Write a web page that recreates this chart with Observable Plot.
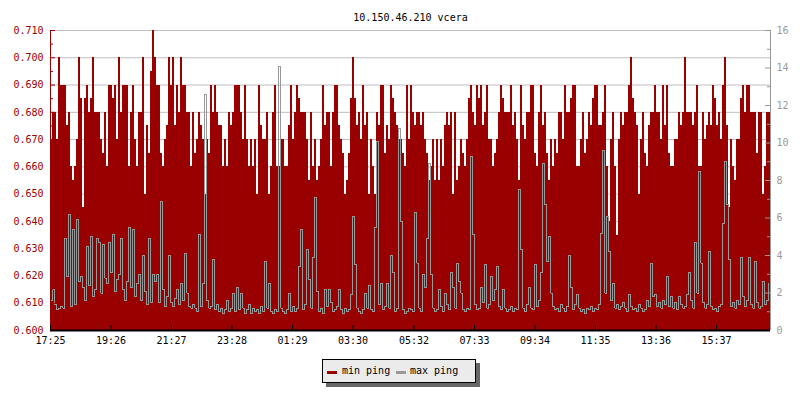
<!DOCTYPE html>
<html>
<head>
<meta charset="utf-8">
<script src="https://cdn.jsdelivr.net/npm/d3@7"></script>
<script src="https://cdn.jsdelivr.net/npm/@observablehq/plot@0.6"></script>
<style>
  body { margin: 0; background: #fff; }
  #wrap { position: relative; width: 800px; height: 400px; font-family: "DejaVu Sans Mono", monospace; }
  #legend { position: absolute; left: 322px; top: 359px; width: 152px; height: 22px; background: #ebebeb; border: 1px solid #000; box-shadow: 4px 4px 0 #666; font-size: 10px; color: #000; }
  #legend .sw { position: absolute; top: 11px; width: 10px; height: 3px; }
  #legend .lb { position: absolute; top: 0; line-height: 22px; white-space: pre; }
</style>
</head>
<body>
<div id="wrap">
  <div id="chart"></div>
  <div id="legend"></div>
</div>
<script>
const title = "10.150.46.210 vcera";
const seriesNames = ["min ping", "max ping"];
const startLabel = "17:25";
const timeLabels = ["17:25","19:26","21:27","23:28","01:29","03:30","05:32","07:33","09:34","11:35","13:36","15:37"];
const leftTicks = [0.600,0.610,0.620,0.630,0.640,0.650,0.660,0.670,0.680,0.690,0.700,0.710];
const leftMinor = [0.605,0.615,0.625,0.635,0.645,0.655,0.665,0.675,0.685,0.695,0.705];
const rightTicks = [0,2,4,6,8,10,12,14,16];
const rightMinor = [1,3,5,7,9,11,13,15];

// min ping (ms), one value per 4 minutes, 24 h
const minPing = [
0.670,0.680,0.680,0.670,0.700,0.690,0.690,0.690,0.675,0.680,0.660,0.655,0.660,0.670,0.700,0.685,0.645,0.685,0.690,0.680,
0.685,0.700,0.680,0.680,0.680,0.670,0.665,0.680,0.660,0.690,0.690,0.685,0.690,0.670,0.700,0.680,0.690,0.690,0.690,0.660,
0.680,0.690,0.670,0.660,0.680,0.680,0.700,0.650,0.675,0.665,0.695,0.710,0.700,0.690,0.690,0.665,0.660,0.670,0.675,0.700,
0.690,0.700,0.675,0.690,0.680,0.700,0.690,0.690,0.680,0.680,0.660,0.680,0.665,0.670,0.680,0.675,0.670,0.650,0.670,0.665,
0.690,0.680,0.690,0.680,0.675,0.675,0.660,0.670,0.660,0.680,0.675,0.680,0.690,0.690,0.690,0.680,0.670,0.690,0.670,0.660,
0.670,0.660,0.670,0.650,0.690,0.675,0.670,0.670,0.680,0.650,0.660,0.680,0.690,0.660,0.660,0.670,0.670,0.660,0.660,0.675,
0.690,0.670,0.680,0.690,0.685,0.680,0.680,0.680,0.670,0.655,0.680,0.660,0.670,0.655,0.660,0.670,0.690,0.675,0.680,0.680,
0.660,0.680,0.690,0.690,0.675,0.670,0.665,0.650,0.655,0.665,0.685,0.700,0.685,0.675,0.680,0.670,0.690,0.675,0.680,0.650,
0.670,0.660,0.650,0.680,0.675,0.690,0.690,0.665,0.675,0.670,0.690,0.685,0.680,0.675,0.670,0.670,0.665,0.660,0.690,0.670,
0.690,0.680,0.675,0.680,0.680,0.675,0.680,0.670,0.665,0.655,0.660,0.670,0.655,0.670,0.655,0.670,0.660,0.675,0.680,0.675,
0.680,0.650,0.680,0.655,0.660,0.670,0.665,0.660,0.670,0.685,0.690,0.680,0.675,0.690,0.685,0.690,0.675,0.680,0.690,0.670,
0.670,0.660,0.665,0.670,0.680,0.690,0.685,0.680,0.680,0.680,0.690,0.675,0.680,0.670,0.655,0.690,0.675,0.670,0.680,0.680,
0.690,0.690,0.665,0.660,0.680,0.690,0.675,0.680,0.665,0.655,0.670,0.660,0.670,0.665,0.680,0.680,0.670,0.690,0.680,0.680,
0.685,0.690,0.690,0.660,0.660,0.670,0.680,0.665,0.670,0.680,0.675,0.685,0.690,0.690,0.675,0.675,0.680,0.690,0.660,0.640,
0.670,0.680,0.660,0.635,0.670,0.680,0.675,0.680,0.680,0.690,0.700,0.685,0.680,0.675,0.650,0.670,0.680,0.665,0.660,0.675,
0.680,0.680,0.690,0.680,0.680,0.670,0.690,0.675,0.690,0.665,0.660,0.660,0.670,0.670,0.680,0.675,0.680,0.700,0.680,0.680,
0.680,0.675,0.680,0.690,0.660,0.660,0.680,0.670,0.675,0.680,0.675,0.690,0.685,0.675,0.680,0.670,0.690,0.700,0.675,0.645,
0.670,0.660,0.655,0.670,0.670,0.685,0.690,0.680,0.690,0.690,0.680,0.680,0.680,0.665,0.680,0.680,0.650,0.660,0.680,0.680
];

// max ping (ms), right axis, same sampling
const maxPing = [
1.6,2.2,1.4,1.1,1.2,1.3,1.2,4.9,2.9,6.2,1.3,5.4,1.4,5.9,2.6,2.9,2.3,1.6,4.5,2.4,
5.0,1.8,2.2,4.9,4.7,2.0,4.6,2.8,2.5,4.7,3.1,5.1,2.1,2.7,3.0,4.9,2.2,1.6,2.6,5.5,
2.3,5.4,1.8,2.5,3.0,1.6,4.0,2.1,1.4,4.9,1.5,3.0,2.6,3.0,1.5,6.9,2.2,1.3,1.8,4.0,
1.5,1.3,1.7,2.2,1.4,2.5,1.6,4.1,2.0,1.3,1.2,1.4,1.2,1.0,5.1,1.3,2.5,12.6,1.6,1.2,
1.3,3.8,1.1,1.4,1.0,1.2,0.9,1.1,1.6,1.0,1.2,2.0,1.0,2.3,1.1,2.0,1.2,0.9,1.1,1.4,
0.9,1.2,1.0,1.1,0.9,1.3,1.0,3.7,1.2,2.5,1.0,0.9,1.1,1.0,14.1,1.2,1.0,0.9,1.1,2.0,
1.0,1.3,1.0,1.2,3.4,5.4,1.1,1.4,4.3,2.7,1.2,3.9,7.1,2.1,1.0,1.2,0.9,2.2,1.3,2.2,
1.5,1.0,1.1,1.3,2.2,1.1,0.9,1.2,1.0,1.1,1.9,6.1,3.5,1.2,1.0,0.9,1.1,2.0,1.2,2.4,
1.1,1.0,5.5,10.1,1.4,2.5,1.1,1.3,2.5,1.2,4.0,3.1,1.0,1.2,10.8,5.8,1.1,0.9,1.0,1.2,
1.1,1.0,6.3,3.6,1.2,1.0,3.0,2.3,4.9,8.9,3.0,1.2,1.0,1.1,2.2,1.3,1.0,2.0,1.4,1.1,
3.1,2.3,1.2,3.6,2.6,2.0,1.1,1.0,1.2,1.1,9.3,5.1,1.4,1.1,1.2,2.3,1.5,3.5,1.2,1.4,
2.9,1.6,2.2,3.4,1.3,1.1,2.2,1.2,1.0,1.1,1.3,1.0,1.2,1.1,7.5,4.3,1.2,1.0,1.4,2.3,
1.2,1.1,3.5,1.3,1.6,3.1,8.9,6.7,3.7,5.0,2.0,1.3,1.1,1.2,1.0,1.4,1.2,1.0,1.3,4.0,
2.3,1.1,1.4,1.9,1.2,1.0,1.1,0.9,1.2,1.1,1.3,1.0,1.2,1.1,1.4,5.2,9.6,2.0,6.1,4.2,
1.6,2.5,1.2,1.4,1.1,1.3,1.5,1.2,1.0,1.9,1.3,1.1,1.2,1.0,1.4,1.2,1.0,1.1,1.6,1.3,
3.6,1.8,1.9,1.3,1.5,1.2,1.6,1.4,2.9,1.3,1.8,1.2,1.5,1.1,1.8,1.4,1.2,1.3,1.9,3.1,
1.6,1.2,4.7,2.0,8.5,3.6,1.5,1.2,1.4,4.2,1.3,1.1,1.2,1.0,1.3,1.4,5.7,9.0,6.7,3.8,
1.3,1.5,1.2,1.6,1.4,3.9,1.8,1.3,1.6,3.9,1.4,1.2,3.7,1.5,1.2,1.3,2.6,1.4,1.6,2.5
];

const RED = "#990000";
const GRAY = "#999999";
const DAY = 1440;

const toMin = s => { const [h, m] = s.split(":").map(Number); return h * 60 + m; };
const start = toMin(startLabel);
const tickMinutes = timeLabels.map(l => (toMin(l) - start + DAY) % DAY);

const yLo = leftTicks[0], yHi = leftTicks[leftTicks.length - 1];
const rMax = rightTicks[rightTicks.length - 1];
const toLeft = v => yLo + v * (yHi - yLo) / rMax;
const fromLeft = d => Math.round((d - yLo) * rMax / (yHi - yLo));

const step = DAY / minPing.length;
const rows = minPing.map((v, i) => ({ t: i * step, t2: (i + 1) * step, min: v, max: maxPing[i] }));

const chart = Plot.plot({
  width: 800,
  height: 400,
  marginLeft: 50,
  marginRight: 30,
  marginTop: 30,
  marginBottom: 70,
  style: { fontFamily: "DejaVu Sans Mono, monospace", fontSize: "10px", background: "transparent", color: "#000" },
  x: { domain: [0, DAY], label: null },
  y: { domain: [yLo, yHi], label: null },
  marks: [
    Plot.gridY(leftTicks, { stroke: "#bdbdbd", strokeOpacity: 1 }),
    Plot.rect(rows, { x1: "t", x2: "t2", y1: () => yLo, y2: "min", fill: RED, shapeRendering: "crispEdges" }),
    Plot.line(rows, { x: "t", y: d => toLeft(d.max), stroke: GRAY, strokeWidth: 1, curve: "step-after", shapeRendering: "crispEdges" }),
    Plot.ruleX([0], { stroke: RED }),
    Plot.ruleX([DAY], { stroke: GRAY }),
    Plot.tickY(leftTicks, { stroke: RED, insetRight: 715 }),
    Plot.tickY(leftMinor, { stroke: RED, insetRight: 717 }),
    Plot.tickY(rightTicks.map(toLeft), { stroke: GRAY, insetLeft: 715 }),
    Plot.tickY(rightMinor.map(toLeft), { stroke: GRAY, insetLeft: 717 }),
    Plot.ruleY([yLo], { stroke: "#000", strokeWidth: 2 }),
    Plot.tickX(tickMinutes, { stroke: "#000", insetTop: 295 }),
    Plot.axisY(leftTicks, { anchor: "left", label: null, tickSize: 0, tickPadding: 7, tickFormat: d => d.toFixed(3), color: RED }),
    Plot.axisY(rightTicks.map(toLeft), { anchor: "right", label: null, tickSize: 0, tickPadding: 6, tickFormat: d => String(fromLeft(d)), color: GRAY }),
    Plot.axisX(tickMinutes, { anchor: "bottom", label: null, tickSize: 0, tickPadding: 6, tickFormat: d => timeLabels[tickMinutes.indexOf(d)], color: "#000" }),
    Plot.text([title], { frameAnchor: "top", dy: -17, fill: "#000", fontSize: 10 })
  ]
});
document.getElementById("chart").appendChild(chart);

const legend = document.getElementById("legend");
const items = [
  { name: seriesNames[0], color: RED, sw: 4, lb: 19 },
  { name: seriesNames[1], color: GRAY, sw: 73, lb: 87 }
];
for (const it of items) {
  const s = document.createElement("span");
  s.className = "sw"; s.style.left = it.sw + "px"; s.style.background = it.color;
  legend.appendChild(s);
  const t = document.createElement("span");
  t.className = "lb"; t.style.left = it.lb + "px"; t.textContent = it.name;
  legend.appendChild(t);
}
</script>
</body>
</html>
